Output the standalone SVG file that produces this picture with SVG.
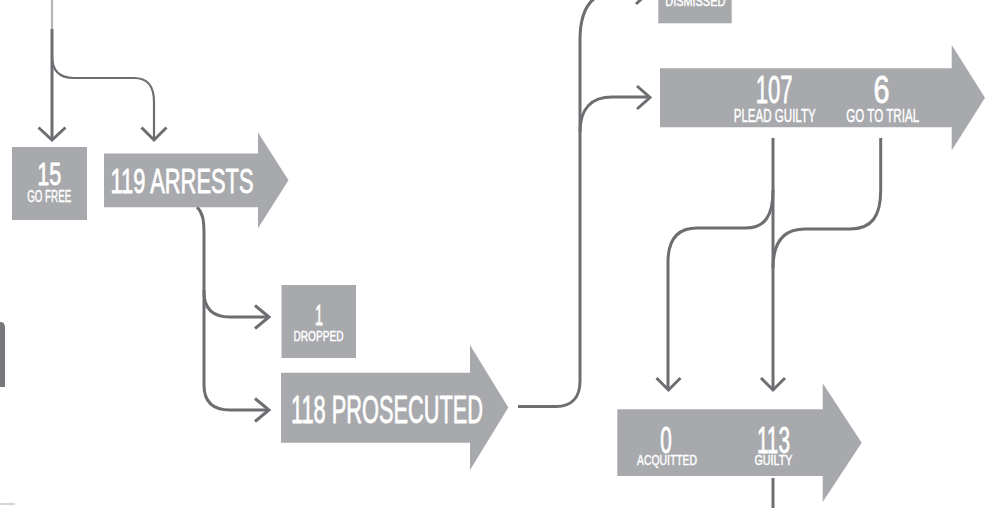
<svg xmlns="http://www.w3.org/2000/svg" width="989" height="508" viewBox="0 0 989 508">
<style>
.shape{fill:#a7a9ac}
.ln{fill:none;stroke:#6d6e71;stroke-width:3}
.thin{stroke-width:2.2}
.hd{fill:none;stroke:#6d6e71;stroke-width:3;stroke-linejoin:miter;stroke-linecap:butt}
text{fill:#ffffff;stroke:#ffffff;stroke-width:0.8;stroke-linejoin:round;font-family:"Liberation Sans Narrow","Liberation Sans",sans-serif;text-anchor:middle}
text.s{stroke-width:0.45}
</style>
<rect width="989" height="508" fill="#ffffff"/>
<g id="connectors">
  <path d="M52,0 V30" fill="none" stroke="#b4b5b8" stroke-width="2.2"/>
  <path class="ln" d="M52,29 V138"/>
  <path class="hd" d="M38.5,127.5 L52,140 L65.5,127.5"/>
  <path class="ln thin" d="M52,56 C52,71 59,78 74,78 H134 C148,78 154,86 154,102 V138"/>
  <path class="hd" d="M141.5,127.5 L154,140 L166.5,127.5"/>
  <path class="ln" d="M197,207 C203,213 204,220 204,235 V292 C204,308 212,317 230,317 H268"/>
  <path class="hd" d="M255,305.5 L269,317 L255,328.5"/>
  <path class="ln" d="M204,290 V385 C204,401 212,410 230,410 H268"/>
  <path class="hd" d="M255,398.5 L269,410 L255,421.5"/>
  <path class="ln" d="M518,406.5 H556 C572,406.5 580,397 580,381 V40 C580,8 592,-8 616,-8 H648"/>
  <path class="hd" d="M636,-20 L649,-8 L636,4"/>
  <path class="ln" d="M580,132 C580,108 592,97 612,97 H649"/>
  <path class="hd" d="M637,86 L650,97.5 L637,109"/>
  <path class="ln" d="M773,138 V389"/>
  <path class="hd" d="M761,378 L773,390 L785,378"/>
  <path class="ln" d="M773,190 C773,216 765,228 745,228 H697 C677,228 668,240 668,262 V389"/>
  <path class="hd" d="M656.5,378 L668.5,390 L680.5,378"/>
  <path class="ln" d="M880.7,138 V190 C880.7,216 872,229 850,229 H805 C783,229 773,243 773,268"/>
  <path class="ln" d="M773,478 V508"/>
</g>
<g id="edge-bits">
  <path d="M0,322 H1 Q5,322 5,328 V387 H0 Z" fill="#77787b"/>
  <rect x="0" y="503" width="15" height="2" fill="#d6d6d8"/>
</g>
<g id="go-free">
  <rect class="shape" x="12" y="147" width="75" height="73"/>
  <text x="49.2" y="185" font-size="31.5" textLength="24" lengthAdjust="spacingAndGlyphs">15</text>
  <text class="s" x="49.2" y="201.7" font-size="15.8" textLength="44" lengthAdjust="spacingAndGlyphs">GO FREE</text>
</g>
<g id="arrests">
  <polygon class="shape" points="104,153.5 258,153.5 258,132.5 288.5,180.3 258,228.3 258,207.3 104,207.3"/>
  <text x="182" y="192.7" font-size="35.5" textLength="143" lengthAdjust="spacingAndGlyphs">119 ARRESTS</text>
</g>
<g id="dropped">
  <rect class="shape" x="281.5" y="285" width="74.5" height="73"/>
  <text x="319" y="324.5" font-size="30" textLength="8" lengthAdjust="spacingAndGlyphs">1</text>
  <text class="s" x="318.5" y="340.7" font-size="14.6" textLength="50" lengthAdjust="spacingAndGlyphs">DROPPED</text>
</g>
<g id="prosecuted">
  <polygon class="shape" points="281,372.7 470,372.7 470,345 508.3,407.5 470,470 470,442.7 281,442.7"/>
  <text x="387" y="422.6" font-size="38" textLength="192" lengthAdjust="spacingAndGlyphs">118 PROSECUTED</text>
</g>
<g id="dismissed">
  <rect class="shape" x="658.3" y="-50" width="73.4" height="73.3"/>
  <text class="s" x="695.3" y="6" font-size="14.6" textLength="60" lengthAdjust="spacingAndGlyphs">DISMISSED</text>
</g>
<g id="plead">
  <polygon class="shape" points="660,68.3 951.7,68.3 951.7,45 985,97.8 951.7,150.6 951.7,127.3 660,127.3"/>
  <text x="774.2" y="103.3" font-size="38.5" textLength="37" lengthAdjust="spacingAndGlyphs">107</text>
  <text class="s" x="774.7" y="121.7" font-size="17.8" textLength="82" lengthAdjust="spacingAndGlyphs">PLEAD GUILTY</text>
  <text x="881.5" y="103.3" font-size="38.5" textLength="16" lengthAdjust="spacingAndGlyphs">6</text>
  <text class="s" x="882.7" y="121.7" font-size="17.8" textLength="73" lengthAdjust="spacingAndGlyphs">GO TO TRIAL</text>
</g>
<g id="verdict">
  <polygon class="shape" points="617.3,409.3 822.7,409.3 822.7,383.3 861.7,442.7 822.7,502 822.7,476 617.3,476"/>
  <text x="666" y="453.3" font-size="36.5" textLength="11.5" lengthAdjust="spacingAndGlyphs">0</text>
  <text class="s" x="667" y="465" font-size="13.8" textLength="60" lengthAdjust="spacingAndGlyphs">ACQUITTED</text>
  <text x="773.4" y="453.3" font-size="36.5" textLength="33" lengthAdjust="spacingAndGlyphs">113</text>
  <text class="s" x="773.5" y="465" font-size="13.8" textLength="38" lengthAdjust="spacingAndGlyphs">GUILTY</text>
</g>
</svg>
